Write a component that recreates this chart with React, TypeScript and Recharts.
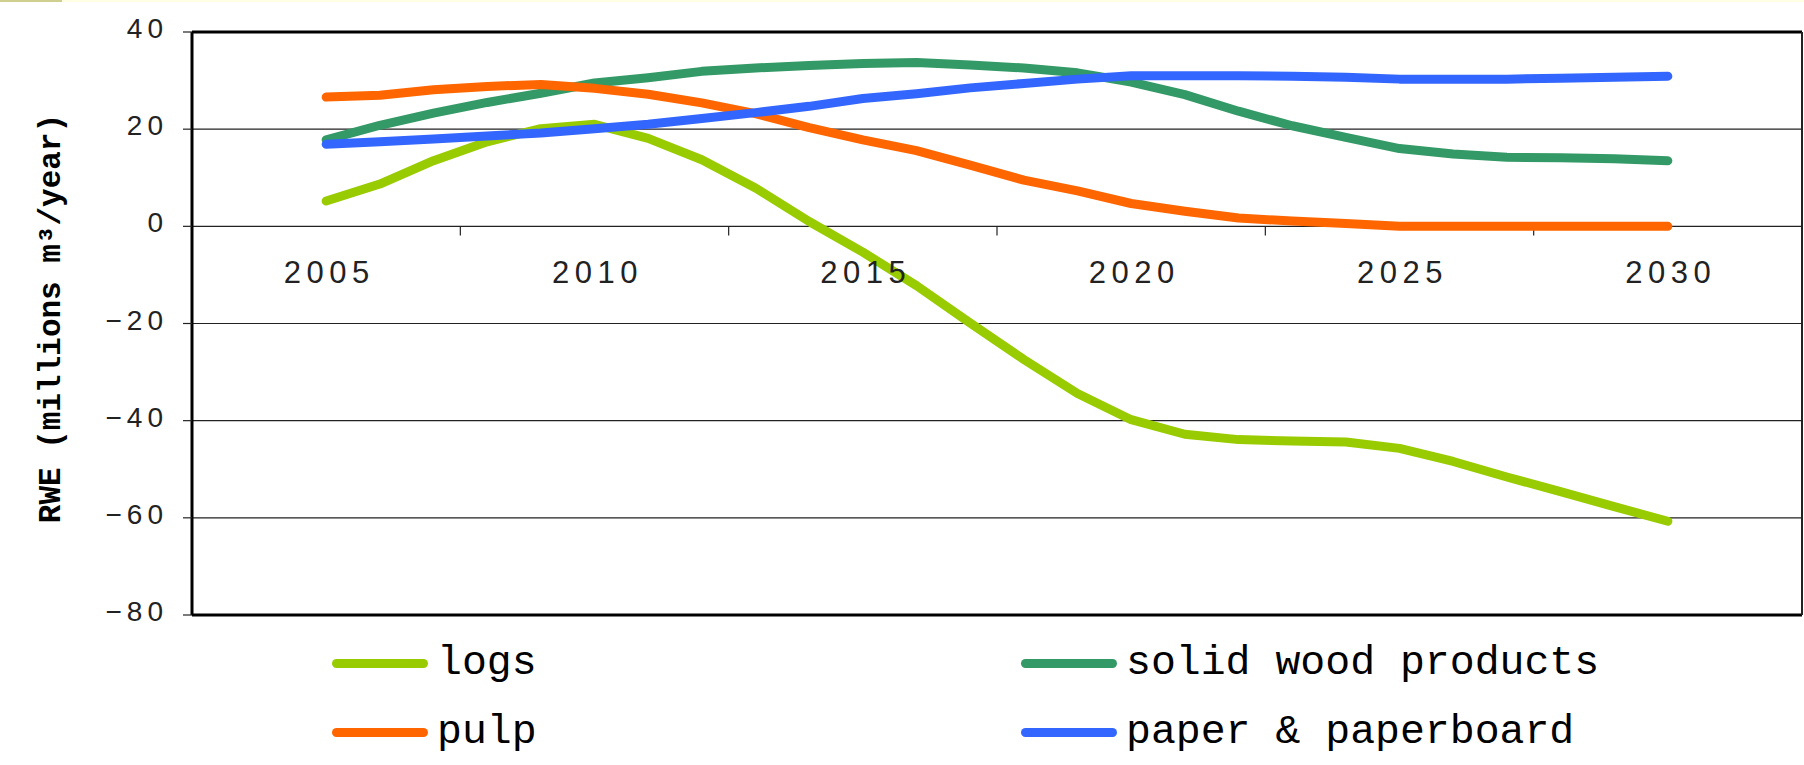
import React from "react";
import {
  LineChart,
  Line,
  XAxis,
  YAxis,
  CartesianGrid,
  ReferenceDot,
  ReferenceLine,
  Legend,
} from "recharts";

// values, one per year
const years = [
  2005, 2006, 2007, 2008, 2009, 2010, 2011, 2012, 2013, 2014, 2015, 2016, 2017,
  2018, 2019, 2020, 2021, 2022, 2023, 2024, 2025, 2026, 2027, 2028, 2029, 2030,
];
const logs = [
  5.2, 8.7, 13.5, 17.4, 20.1, 21.0, 18.1, 13.7, 7.9, 1.0, -5.3, -12.2, -19.9,
  -27.4, -34.4, -39.8, -42.8, -43.9, -44.2, -44.4, -45.7, -48.4, -51.6, -54.6,
  -57.7, -60.7,
];
const solidWood = [
  17.8, 20.8, 23.3, 25.5, 27.4, 29.5, 30.6, 31.9, 32.6, 33.1, 33.5, 33.7, 33.2,
  32.6, 31.6, 29.7, 27.1, 23.7, 20.7, 18.3, 16.0, 14.9, 14.2, 14.1, 13.9, 13.5,
];
const pulp = [
  26.6, 27.0, 28.1, 28.8, 29.2, 28.4, 27.2, 25.4, 23.2, 20.3, 17.8, 15.6, 12.6,
  9.5, 7.3, 4.7, 3.1, 1.7, 1.1, 0.6, 0, 0, 0, 0, 0, 0,
];
const paper = [
  16.9, 17.4, 18.0, 18.6, 19.2, 20.1, 21.0, 22.2, 23.4, 24.7, 26.3, 27.3, 28.5,
  29.4, 30.3, 31.0, 31.0, 31.0, 30.9, 30.7, 30.3, 30.3, 30.3, 30.5, 30.7, 30.9,
];

const yearLabels = [2005, 2010, 2015, 2020, 2025, 2030];
const tickMarks = [2007.5, 2012.5, 2017.5, 2022.5, 2027.5];
const yTicks = [-80, -60, -40, -20, 0, 20, 40];

const series = [
  { key: "logs", name: "logs", color: "#99CC00" },
  { key: "solid", name: "solid wood products", color: "#339966" },
  { key: "pulp", name: "pulp", color: "#FF6600" },
  { key: "paper", name: "paper & paperboard", color: "#3366FF" },
];

const data = years.map((year, i) => ({
  year,
  logs: logs[i],
  solid: solidWood[i],
  pulp: pulp[i],
  paper: paper[i],
}));

const sans = "'Liberation Sans', Arial, sans-serif";
const mono = "'Liberation Mono', 'Courier New', monospace";

const YTick = (props: any) => {
  const { x, y, payload } = props;
  const v = payload.value;
  const label = v < 0 ? "\u2212" + Math.abs(v) : String(v);
  return (
    <text
      x={x + 5}
      y={y}
      dy={6}
      textAnchor="end"
      fill="#222"
      style={{ fontFamily: sans, fontSize: 28, letterSpacing: 5 }}
    >
      {label}
    </text>
  );
};

const yearLabel = (props: any) => {
  const { viewBox, value } = props;
  const cx = viewBox.x + viewBox.width / 2;
  const cy = viewBox.y + viewBox.height / 2;
  return (
    <text
      x={cx + 3}
      y={cy + 57}
      textAnchor="middle"
      fill="#222"
      style={{ fontFamily: sans, fontSize: 31, letterSpacing: 5.5 }}
    >
      {value}
    </text>
  );
};

const yTitle = (props: any) => {
  const { viewBox } = props;
  const cx = viewBox.x + 60;
  const cy = viewBox.y + viewBox.height / 2 - 5;
  return (
    <text
      x={cx}
      y={cy}
      transform={`rotate(-90, ${cx}, ${cy})`}
      textAnchor="middle"
      fill="#000"
      style={{ fontFamily: mono, fontWeight: 700, fontSize: 31 }}
    >
      RWE (millions m³/year)
    </text>
  );
};

const renderLegend = (props: any) => {
  const payload = props.payload || [];
  const items = series.map(
    (s) => payload.find((p: any) => p.value === s.name) || { value: s.name, color: s.color }
  );
  return (
    <div style={{ position: "relative", width: 1804, height: 110 }}>
      {items.map((entry: any, i: number) => (
        <div
          key={entry.value}
          style={{
            position: "absolute",
            left: i % 2 ? 1021 : 332,
            top: Math.floor(i / 2) * 69,
            display: "flex",
            alignItems: "center",
            height: 40,
          }}
        >
          <span
            style={{
              display: "inline-block",
              width: 96,
              height: 9,
              borderRadius: 5,
              background: entry.color,
              marginRight: 9,
            }}
          />
          <span
            style={{
              fontFamily: mono,
              fontSize: 41.5,
              lineHeight: "40px",
              color: "#000",
              whiteSpace: "pre",
            }}
          >
            {entry.value}
          </span>
        </div>
      ))}
    </div>
  );
};

export default function App() {
  return (
    <div style={{ position: "relative", width: 1804, height: 765, background: "#fff" }}>
      <style>{`body{margin:0;}`}</style>
      <div style={{ position: "absolute", left: 0, top: 0, width: 1804, height: 2, background: "#FFFFE6" }} />
      <div style={{ position: "absolute", left: 0, top: 0, width: 62, height: 2, background: "#CFCF8F" }} />
      <LineChart
        width={1804}
        height={765}
        data={data}
        margin={{ top: 31, right: 1, bottom: 149, left: 0 }}
      >
        <CartesianGrid horizontal vertical={false} stroke="#222" strokeWidth={1.2} />
        <XAxis
          dataKey="year"
          type="number"
          domain={[2002.5, 2032.5]}
          height={1}
          tick={false}
          tickLine={false}
          axisLine={{ stroke: "#000", strokeWidth: 3 }}
        />
        <XAxis
          xAxisId="top"
          orientation="top"
          type="number"
          domain={[2002.5, 2032.5]}
          height={1}
          tick={false}
          tickLine={false}
          axisLine={{ stroke: "#000", strokeWidth: 3 }}
        />
        <YAxis
          type="number"
          domain={[-80, 40]}
          ticks={yTicks}
          width={192}
          tickSize={9}
          tickMargin={20}
          tickLine={{ stroke: "#222", strokeWidth: 1.2 }}
          axisLine={{ stroke: "#000", strokeWidth: 3 }}
          tick={<YTick />}
          interval={0}
          label={{ content: yTitle }}
        />
        <YAxis
          yAxisId="right"
          orientation="right"
          type="number"
          domain={[-80, 40]}
          width={1}
          tick={false}
          tickLine={false}
          axisLine={{ stroke: "#222", strokeWidth: 2 }}
        />
        {tickMarks.map((t) => (
          <ReferenceLine
            key={t}
            segment={[
              { x: t, y: 0 },
              { x: t, y: -1.9 },
            ]}
            stroke="#222"
            strokeWidth={1.2}
          />
        ))}
        {yearLabels.map((yr) => (
          <ReferenceDot
            key={yr}
            x={yr}
            y={0}
            r={0.5}
            fill="none"
            stroke="none"
            label={{ content: yearLabel, value: yr }}
          />
        ))}
        {series.map((s) => (
          <Line
            key={s.key}
            type="linear"
            dataKey={s.key}
            name={s.name}
            stroke={s.color}
            strokeWidth={9}
            strokeLinecap="round"
            strokeLinejoin="round"
            dot={false}
            activeDot={false}
            isAnimationActive={false}
          />
        ))}
        <Legend
          layout="horizontal"
          verticalAlign="middle"
          align="center"
          wrapperStyle={{ top: 643, left: 0, width: 1804 }}
          content={renderLegend}
        />
      </LineChart>
    </div>
  );
}
